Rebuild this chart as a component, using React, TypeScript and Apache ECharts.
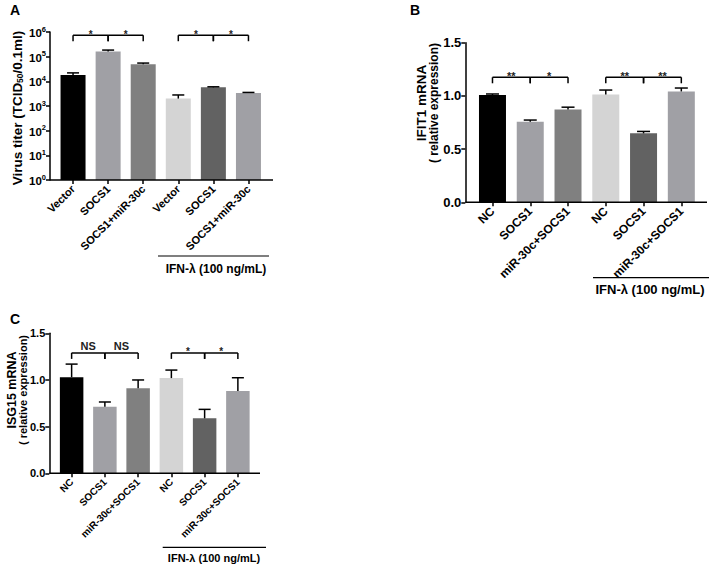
import React, { useEffect, useRef } from 'react';
import * as echarts from 'echarts';

const catsA = ['Vector', 'SOCS1', 'SOCS1+miR-30c', 'Vector', 'SOCS1', 'SOCS1+miR-30c'];
const valsA = [18000, 163000, 49000, 2000, 5700, 3400];
const errsA = [4000, 22000, 6000, 800, 300, 150];

const catsB = ['NC', 'SOCS1', 'miR-30c+SOCS1', 'NC', 'SOCS1', 'miR-30c+SOCS1'];
const valsB = [1.008, 0.757, 0.872, 1.013, 0.648, 1.042];
const errsB = [0.01, 0.016, 0.022, 0.042, 0.018, 0.032];

const catsC = ['NC', 'SOCS1', 'miR-30c+SOCS1', 'NC', 'SOCS1', 'miR-30c+SOCS1'];
const valsC = [1.03, 0.714, 0.91, 1.02, 0.589, 0.881];
const errsC = [0.14, 0.05, 0.09, 0.086, 0.096, 0.143];

const barColors = ['#000000', '#a0a0a5', '#808080', '#d4d4d4', '#626262', '#a0a0a5'];

// significance brackets: [from index, to index]
const sigPairs = [[0, 1], [1, 2], [3, 4], [4, 5]];
const sigLabelsA = ['*', '*', '*', '*'];
const sigLabelsB = ['**', '*', '**', '**'];
const sigLabelsC = ['NS', 'NS', '*', '*'];
const sigLevelA = 740000;
const sigLevelB = 1.175;
const sigLevelC = 1.29;

const groupLabel = 'IFN-λ (100 ng/mL)';

const FONT = 'Liberation Sans, Arial, sans-serif';

function barSeries(idx: number, vals: number[], barWidth: number) {
  return {
    type: 'bar',
    xAxisIndex: idx,
    yAxisIndex: idx,
    barWidth,
    data: vals.map((v, i) => ({ value: v, itemStyle: { color: barColors[i] } })),
    z: 2,
  };
}

function errSeries(idx: number, vals: number[], errs: number[], cap: number) {
  return {
    type: 'custom',
    xAxisIndex: idx,
    yAxisIndex: idx,
    z: 3,
    itemStyle: { color: '#000' },
    encode: { x: 0, y: 1 },
    data: vals.map((v, i) => [i, v, v + errs[i]]),
    renderItem: (params: any, api: any) => {
      const x = api.value(0);
      const p0 = api.coord([x, api.value(1)]);
      const p1 = api.coord([x, api.value(2)]);
      const st = { stroke: '#000', lineWidth: 1.5 };
      return {
        type: 'group',
        children: [
          { type: 'line', shape: { x1: p0[0], y1: p0[1], x2: p1[0], y2: p1[1] }, style: st },
          { type: 'line', shape: { x1: p1[0] - cap, y1: p1[1], x2: p1[0] + cap, y2: p1[1] }, style: st },
        ],
      };
    },
  };
}

function sigSeries(idx: number, level: number, labels: string[], starSize: number, nsSize: number) {
  return {
    type: 'custom',
    xAxisIndex: idx,
    yAxisIndex: idx,
    z: 4,
    clip: false,
    itemStyle: { color: '#000' },
    encode: { x: 0, y: 2 },
    data: sigPairs.map((p) => [p[0], p[1], level]),
    renderItem: (params: any, api: any) => {
      const a = api.coord([api.value(0), api.value(2)]);
      const b = api.coord([api.value(1), api.value(2)]);
      const drop = 6;
      const st = { stroke: '#000', lineWidth: 1.5 };
      const lab = labels[params.dataIndex];
      const isNS = lab === 'NS';
      return {
        type: 'group',
        children: [
          { type: 'line', shape: { x1: a[0], y1: a[1], x2: b[0], y2: b[1] }, style: st },
          { type: 'line', shape: { x1: a[0], y1: a[1], x2: a[0], y2: a[1] + drop }, style: st },
          { type: 'line', shape: { x1: b[0], y1: b[1], x2: b[0], y2: b[1] + drop }, style: st },
          {
            type: 'text',
            x: (a[0] + b[0]) / 2,
            y: a[1] - 1,
            style: {
              text: lab,
              fontFamily: FONT,
              fontWeight: 'bold',
              fontSize: isNS ? nsSize : starSize,
              fill: '#222',
              align: 'center',
              verticalAlign: isNS ? 'bottom' : 'middle',
            },
          },
        ],
      };
    },
  };
}

function xAxisCfg(idx: number, cats: string[], fontSize: number) {
  return {
    type: 'category',
    gridIndex: idx,
    data: cats,
    axisLine: { show: false },
    axisTick: { show: true, alignWithLabel: true, length: 4, interval: 0, lineStyle: { color: '#000', width: 1.5 } },
    axisLabel: {
      interval: 0,
      rotate: 45,
      margin: 7,
      color: '#000',
      fontWeight: 'bold',
      fontSize,
      fontFamily: FONT,
    },
  };
}

function linYAxis(idx: number, offset: number, fontSize: number) {
  return {
    type: 'value',
    gridIndex: idx,
    min: 0,
    max: 1.5,
    interval: 0.5,
    offset,
    axisLine: { show: true, lineStyle: { color: '#000', width: 1.5 } },
    axisTick: { show: true, length: 4, lineStyle: { color: '#000', width: 1.5 } },
    splitLine: { show: false },
    axisLabel: {
      color: '#000',
      fontWeight: 'bold',
      fontSize,
      fontFamily: FONT,
      margin: 4,
      formatter: (v: number) => v.toFixed(1),
    },
  };
}

function line(x1: number, x2: number, y: number, w = 1.5) {
  return { type: 'line', shape: { x1, y1: y, x2, y2: y }, style: { stroke: '#000', lineWidth: w }, z: 10 };
}

function txt(text: string, x: number, y: number, size: number, opts: any = {}) {
  return {
    type: 'text',
    x,
    y,
    rotation: opts.rotation || 0,
    z: 10,
    style: {
      text,
      fontFamily: FONT,
      fontWeight: 'bold',
      fontSize: size,
      fill: '#000',
      align: opts.align || 'center',
      verticalAlign: opts.va || 'middle',
      textAlign: opts.align || 'center',
      textVerticalAlign: opts.va || 'middle',
      rich: opts.rich,
    },
  };
}

export default function App() {
  const ref = useRef<HTMLDivElement>(null);
  useEffect(() => {
    if (!ref.current) return;
    const chart = echarts.init(ref.current, undefined, { renderer: 'svg' });
    const option: any = {
      animation: false,
      backgroundColor: '#fff',
      grid: [
        { left: 55.5, top: 32, width: 210.5, height: 148 },
        { left: 473.6, top: 42.7, width: 226.6, height: 159.6 },
        { left: 55, top: 333.3, width: 199.5, height: 140 },
      ],
      xAxis: [xAxisCfg(0, catsA, 11), xAxisCfg(1, catsB, 12), xAxisCfg(2, catsC, 10)],
      yAxis: [
        {
          type: 'log',
          gridIndex: 0,
          logBase: 10,
          min: 1,
          max: 1000000,
          splitNumber: 6,
          offset: 5.5,
          axisLine: { show: true, lineStyle: { color: '#000', width: 1.5 } },
          axisTick: { show: true, length: 4, lineStyle: { color: '#000', width: 1.5 } },
          splitLine: { show: false },
          axisLabel: {
            margin: 4,
            color: '#000',
            formatter: (v: number) => '{b|10}{s|' + Math.round(Math.log10(v)) + '}',
            rich: {
              b: { fontSize: 11.5, fontWeight: 'bold', fontFamily: FONT, color: '#000', verticalAlign: 'bottom', lineHeight: 14 },
              s: { fontSize: 7.5, fontWeight: 'bold', fontFamily: FONT, color: '#000', verticalAlign: 'top', lineHeight: 14 },
            },
          },
        },
        linYAxis(1, 8.3, 13),
        linYAxis(2, 5.7, 11),
      ],
      series: [
        barSeries(0, valsA, 25),
        errSeries(0, valsA, errsA, 6),
        sigSeries(0, sigLevelA, sigLabelsA, 10, 11),
        barSeries(1, valsB, 27),
        errSeries(1, valsB, errsB, 6.5),
        sigSeries(1, sigLevelB, sigLabelsB, 11, 12),
        barSeries(2, valsC, 23.5),
        errSeries(2, valsC, errsC, 6),
        sigSeries(2, sigLevelC, sigLabelsC, 10, 11),
      ],
      graphic: [
        // x axis lines
        line(50, 273, 180),
        line(465.3, 707, 202.3),
        line(49.3, 260, 473.3),
        // group lines
        line(158, 269, 256, 1.2),
        line(593, 709, 277.7, 1.2),
        line(162.7, 266, 547.3, 1.2),
        txt(groupLabel, 216, 269, 12),
        txt(groupLabel, 650, 289, 13),
        txt(groupLabel, 214, 557.5, 11),
        // panel letters
        txt('A', 10, 9.5, 14, { align: 'left' }),
        txt('B', 410, 9.5, 14, { align: 'left' }),
        txt('C', 10, 318.5, 14, { align: 'left' }),
        // y titles
        txt('{a|Virus titer (TCID}{s|50}{a|/0.1ml)}', 16, 108, 13.5, {
          rotation: Math.PI / 2,
          rich: {
            a: { fontSize: 13.5, fontWeight: 'bold', fontFamily: FONT, fill: '#000', verticalAlign: 'bottom', lineHeight: 16 },
            s: { fontSize: 8.5, fontWeight: 'bold', fontFamily: FONT, fill: '#000', verticalAlign: 'bottom', lineHeight: 12 },
          },
        }),
        txt('IFIT1 mRNA', 421.7, 103, 13.5, { rotation: Math.PI / 2 }),
        txt('( relative expression)', 433.8, 103, 12, { rotation: Math.PI / 2 }),
        txt('ISG15 mRNA', 11.5, 390, 12.5, { rotation: Math.PI / 2 }),
        txt('( relative expression)', 22.5, 390, 11, { rotation: Math.PI / 2 }),
      ],
    };
    chart.setOption(option);
    return () => chart.dispose();
  }, []);
  return <div ref={ref} style={{ position: 'fixed', left: 0, top: 0, width: 709, height: 566 }} />;
}
